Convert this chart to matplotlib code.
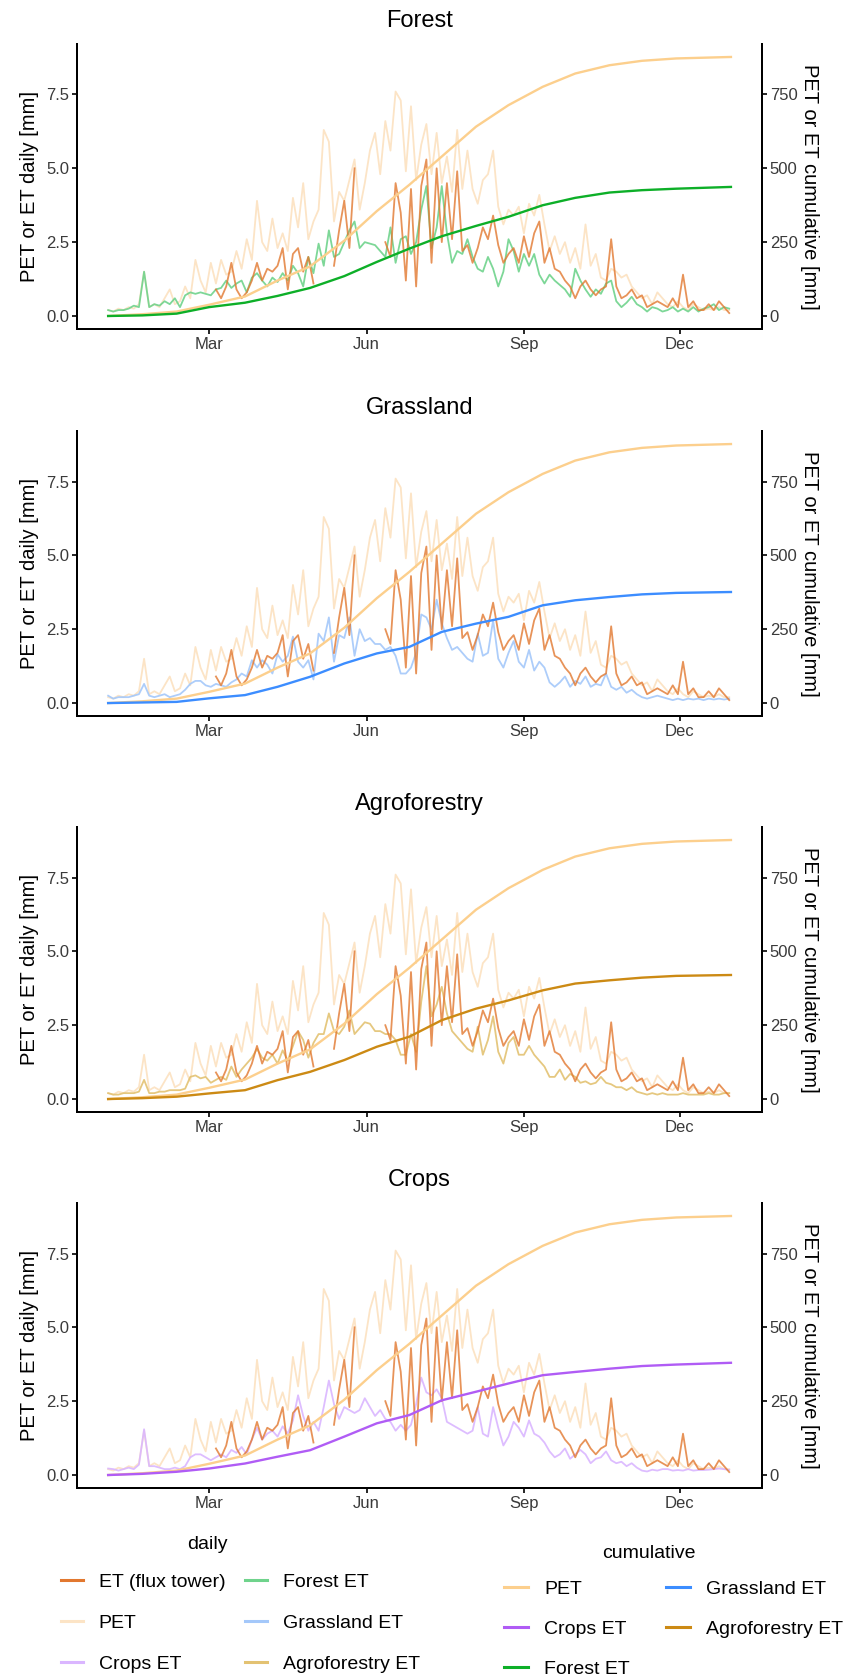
import numpy as np
import pandas as pd
import matplotlib
matplotlib.use("Agg")
import matplotlib.pyplot as plt
import matplotlib.dates as mdates
from matplotlib.lines import Line2D

nan = np.nan

# daily values, every 3rd day from 1 Jan (122 points)
pet_daily = [
    0.2, 0.15, 0.25, 0.2, 0.3, 0.25, 0.4, 1.5, 0.3, 0.4,
    0.3, 0.6, 0.9, 0.4, 0.5, 1.0, 0.6, 1.9, 1.2, 0.8,
    1.8, 1.1, 1.9, 1.4, 1.5, 2.2, 1.6, 2.6, 1.9, 3.9,
    2.5, 2.2, 3.3, 2.3, 2.8, 2.2, 4.0, 3.0, 4.5, 2.6,
    3.2, 3.6, 6.3, 5.9, 3.2, 4.2, 3.9, 4.6, 5.3, 3.6,
    4.5, 5.6, 6.2, 4.8, 6.6, 5.6, 7.6, 7.3, 4.9, 7.1,
    4.6, 5.8, 6.5, 4.8, 6.2, 4.5, 5.4, 4.2, 6.3, 4.3,
    5.6, 4.3, 3.8, 4.6, 4.8, 5.6, 3.7, 3.1, 3.6, 3.4,
    3.7, 2.8, 3.8, 3.4, 4.1, 3.1, 2.2, 2.7, 2.1, 2.5,
    1.8, 2.3, 1.6, 3.1, 1.7, 2.1, 1.3, 1.2, 1.6, 1.5,
    1.3, 1.4, 1.0, 0.8, 0.6, 0.7, 0.4, 0.8, 0.6, 0.4,
    0.3, 0.5, 0.3, 0.2, 0.4, 0.3, 0.2, 0.25, 0.2, 0.3,
    0.2, 0.2,
]

et_flux = [
    nan, nan, nan, nan, nan, nan, nan, nan, nan, nan,
    nan, nan, nan, nan, nan, nan, nan, nan, nan, nan,
    nan, 0.9, 0.6, 1.0, 1.8, 0.9, 0.6, 0.8, 1.2, 1.8,
    1.2, 1.6, 1.5, 1.7, 2.3, 0.9, 2.1, 2.3, 1.5, 2.0,
    1.1, nan, nan, nan, 1.7, 2.9, 3.9, 2.3, 5.0, nan,
    nan, nan, nan, nan, 2.5, 2.0, 4.5, 3.5, 1.2, 4.3,
    1.0, 4.4, 5.3, 1.8, 5.0, 2.5, 4.5, 2.6, 4.9, 2.2,
    2.4, 1.8, 2.3, 3.0, 2.6, 3.4, 2.4, 1.8, 2.1, 2.3,
    1.8, 2.7, 2.0, 2.8, 3.2, 1.8, 2.3, 1.6, 1.5, 1.2,
    1.0, 0.6, 1.0, 1.2, 0.9, 0.7, 0.9, 1.0, 2.6, 1.0,
    0.6, 0.7, 0.9, 0.6, 0.7, 0.3, 0.4, 0.5, 0.4, 0.3,
    0.6, 0.3, 1.4, 0.3, 0.5, 0.2, 0.2, 0.4, 0.2, 0.5,
    0.3, 0.1,
]

forest_daily = [
    0.2, 0.15, 0.2, 0.2, 0.25, 0.35, 0.3, 1.5, 0.3, 0.4,
    0.35, 0.5, 0.4, 0.6, 0.3, 0.7, 0.8, 0.75, 0.8, 0.75,
    0.7, 0.9, 0.95, 1.2, 0.95, 1.1, 1.2, 0.8, 1.3, 1.45,
    1.2, 1.0, 1.3, 1.15, 1.45, 1.2, 1.7, 1.45, 1.0, 2.0,
    1.45, 2.45, 1.7, 2.9, 2.0, 2.1, 2.5, 2.9, 3.2, 2.3,
    2.5, 2.45, 2.4, 2.2, 2.0, 3.0, 1.8, 2.6, 2.7, 2.1,
    2.5, 3.6, 4.4, 2.3, 3.0, 4.4, 2.8, 1.8, 2.2, 2.1,
    2.6, 2.0, 1.6, 1.5, 2.0, 1.6, 1.0, 1.5, 2.6, 2.2,
    1.5, 2.1, 1.7, 2.1, 1.4, 1.1, 1.4, 1.2, 1.05, 0.9,
    0.65, 1.6, 1.2, 0.9, 0.65, 0.9, 0.75, 1.1, 1.2, 0.5,
    0.3, 0.45, 0.65, 0.4, 0.3, 0.15, 0.3, 0.25, 0.15, 0.2,
    0.3, 0.15, 0.25, 0.15, 0.3, 0.15, 0.25, 0.3, 0.4, 0.2,
    0.3, 0.25,
]

grass_daily = [
    0.25, 0.15, 0.2, 0.2, 0.2, 0.25, 0.3, 0.65, 0.25, 0.2,
    0.25, 0.3, 0.2, 0.25, 0.3, 0.45, 0.65, 0.75, 0.75, 0.6,
    0.55, 0.65, 0.6, 0.55, 0.7, 0.8, 1.0, 0.9, 1.45, 1.2,
    1.45, 1.3, 1.0, 1.65, 1.4, 1.6, 2.25, 1.4, 1.2, 1.45,
    0.8, 2.35, 2.1, 2.9, 1.4, 2.3, 2.2, 2.9, 1.6, 2.5,
    2.1, 2.2, 2.0, 2.0, 1.8, 1.9, 1.6, 1.0, 1.0, 1.2,
    1.7, 3.0, 2.9, 2.5, 3.5, 2.7, 2.2, 1.8, 1.9, 1.7,
    1.5, 1.4, 2.35, 1.6, 1.7, 2.8, 1.5, 1.2, 1.7, 2.1,
    1.4, 1.2, 1.8, 1.1, 1.4, 1.2, 0.7, 0.55, 0.7, 0.9,
    0.55, 0.75, 0.65, 0.9, 0.55, 0.65, 0.6, 1.0, 0.55, 0.45,
    0.55, 0.35, 0.45, 0.3, 0.2, 0.15, 0.2, 0.25, 0.2, 0.15,
    0.1, 0.15, 0.1, 0.15, 0.12, 0.15, 0.1, 0.15, 0.12, 0.15,
    0.12, 0.15,
]

agro_daily = [
    0.2, 0.15, 0.15, 0.2, 0.2, 0.2, 0.25, 0.65, 0.2, 0.2,
    0.25, 0.25, 0.3, 0.3, 0.3, 0.35, 0.75, 0.8, 0.7, 0.75,
    0.55, 0.65, 0.75, 0.65, 1.1, 0.75, 1.0, 1.2, 1.4, 1.7,
    1.4, 1.3, 1.5, 1.2, 1.65, 1.3, 1.8, 2.3, 2.0, 1.4,
    1.9, 2.2, 2.2, 2.9, 2.3, 2.2, 2.45, 3.0, 2.2, 2.4,
    2.6, 2.55, 2.3, 2.3, 2.2, 2.2, 2.0, 1.5, 1.5, 2.2,
    1.6, 3.3, 4.5, 2.8, 3.2, 3.8, 2.9, 2.3, 2.1, 1.9,
    1.7, 1.6, 2.45, 1.5, 2.0, 2.8, 1.6, 1.2, 1.9, 2.1,
    1.5, 1.5, 1.8, 1.5, 1.3, 1.1, 0.75, 0.75, 1.0, 0.65,
    0.85, 0.75, 0.55, 0.6, 0.5, 0.55, 0.75, 0.55, 0.5, 0.4,
    0.4, 0.3, 0.4, 0.25, 0.2, 0.15, 0.2, 0.15, 0.2, 0.15,
    0.15, 0.15, 0.2, 0.15, 0.15, 0.15, 0.15, 0.2, 0.15, 0.15,
    0.2, 0.2,
]

crops_daily = [
    0.22, 0.2, 0.15, 0.2, 0.25, 0.2, 0.35, 1.55, 0.3, 0.3,
    0.25, 0.2, 0.2, 0.25, 0.2, 0.3, 0.6, 0.7, 0.7, 0.6,
    0.5, 0.6, 0.7, 0.6, 0.85, 0.75, 0.95, 0.7, 1.2, 1.6,
    1.2, 1.4, 1.5, 1.3, 1.65, 1.4, 1.85, 2.7, 2.0, 1.5,
    1.8, 1.5, 2.3, 3.2, 2.4, 1.9, 2.3, 2.2, 2.1, 2.2,
    2.6, 2.3, 2.0, 2.2, 1.9, 1.8, 1.5, 1.7, 1.5, 1.7,
    2.4, 3.3, 2.8, 2.7, 2.9, 2.6, 1.8, 1.7, 1.6, 1.5,
    1.4, 1.5, 2.3, 1.4, 1.3, 2.3, 1.6, 1.0, 1.3, 1.8,
    1.6, 1.3, 1.85, 1.4, 1.3, 1.1, 0.8, 0.6, 0.7, 0.9,
    0.55, 0.7, 0.85, 0.7, 0.4, 0.55, 0.6, 0.8, 0.5, 0.4,
    0.45, 0.3, 0.4, 0.25, 0.15, 0.12, 0.18, 0.15, 0.2, 0.2,
    0.15, 0.17, 0.15, 0.2, 0.15, 0.17, 0.17, 0.18, 0.2, 0.22,
    0.2, 0.17,
]

# cumulative values [mm]
cum_day = [0, 20, 40, 59, 80, 99, 118, 138, 157, 176, 195, 215, 234, 254, 273, 293, 312, 332, 364]
pet_cum = [0, 6, 15, 38, 66, 120, 168, 255, 355, 444, 540, 641, 714, 776, 821, 849, 864, 872, 877]
forest_cum = [0, 2, 8, 30, 45, 68, 95, 135, 183, 228, 270, 305, 336, 375, 400, 418, 426, 431, 437]
grass_cum = [0, 2, 4, 16, 27, 55, 89, 134, 168, 190, 241, 269, 292, 331, 348, 359, 368, 373, 376]
agro_cum = [0, 3, 8, 19, 30, 64, 92, 132, 177, 211, 267, 306, 334, 368, 391, 402, 411, 417, 420]
crops_cum = [0, 4, 11, 22, 39, 62, 84, 130, 175, 203, 253, 282, 310, 338, 349, 360, 369, 374, 380]

start = pd.Timestamp("2019-01-01")
daily_dates = pd.date_range(start, periods=len(pet_daily), freq="3D")
cum_dates = start + pd.to_timedelta(cum_day, unit="D")

c_flux = "#E2782F"
c_pet_d = "#FCE4C6"
c_pet_c = "#FCCF8D"

panels = [
    ("Forest", forest_daily, forest_cum, "#6FD38C", "#0DAF28", 0.8042),
    ("Grassland", grass_daily, grass_cum, "#A4C8FA", "#3C8DFF", 0.5738),
    ("Agroforestry", agro_daily, agro_cum, "#E3C272", "#CC8A14", 0.3381),
    ("Crops", crops_daily, crops_cum, "#DAB6FF", "#B05CF5", 0.1143),
]

plt.rcParams["font.family"] = ["Liberation Sans", "DejaVu Sans"]

fig = plt.figure(figsize=(8.51, 16.8), dpi=100)

top = max(pet_cum) / 100
ylo, yhi = -0.05 * top, 1.05 * top
pad_days = pd.Timedelta(days=0.05 * 364)

for name, dvals, cvals, dcol, ccol, bottom in panels:
    ax = fig.add_axes([0.0905, bottom, 0.805, 0.1696])
    ax.plot(daily_dates, pet_daily, color=c_pet_d, lw=1.3)
    ax.plot(daily_dates, dvals, color=dcol, lw=1.3, alpha=0.9)
    ax.plot(daily_dates, et_flux, color=c_flux, lw=1.3, alpha=0.8)
    ax.plot(cum_dates, np.array(pet_cum) / 100, color=c_pet_c, lw=1.7)
    ax.plot(cum_dates, np.array(cvals) / 100, color=ccol, lw=1.7)

    ax.set_ylim(ylo, yhi)
    ax.set_xlim(start - pad_days, daily_dates[-1] + pd.Timedelta(days=1) + pad_days)
    ax.set_yticks([0, 2.5, 5.0, 7.5])
    ax.set_yticklabels(["0.0", "2.5", "5.0", "7.5"])
    ax.xaxis.set_major_locator(mdates.MonthLocator(bymonth=[3, 6, 9, 12]))
    ax.xaxis.set_major_formatter(mdates.DateFormatter("%b"))
    ax.set_title(name, fontsize=17, pad=12)
    ax.set_ylabel("PET or ET daily [mm]", fontsize=14.5, labelpad=5)

    ax2 = ax.twinx()
    ax2.set_ylim(ylo * 100, yhi * 100)
    ax2.set_yticks([0, 250, 500, 750])
    ax2.set_ylabel("PET or ET cumulative [mm]", fontsize=14.5, rotation=270,
                   va="bottom", labelpad=2)

    for a in (ax, ax2):
        a.spines["top"].set_visible(False)
        for s in a.spines.values():
            s.set_linewidth(1.4)
        a.tick_params(width=1.2, length=3.5, pad=2, labelsize=12,
                      labelcolor="#3a3a3a")

# legends
daily_handles = [
    Line2D([], [], color=c_flux, lw=2.2),
    Line2D([], [], color=c_pet_d, lw=2.2),
    Line2D([], [], color="#DAB6FF", lw=2.2),
    Line2D([], [], color="#6FD38C", lw=2.2),
    Line2D([], [], color="#A4C8FA", lw=2.2),
    Line2D([], [], color="#E3C272", lw=2.2),
]
daily_labels = ["ET (flux tower)", "PET", "Crops ET", "Forest ET", "Grassland ET", "Agroforestry ET"]

cum_handles = [
    Line2D([], [], color=c_pet_c, lw=2.2),
    Line2D([], [], color="#B05CF5", lw=2.2),
    Line2D([], [], color="#0DAF28", lw=2.2),
    Line2D([], [], color="#3C8DFF", lw=2.2),
    Line2D([], [], color="#CC8A14", lw=2.2),
]
cum_labels = ["PET", "Crops ET", "Forest ET", "Grassland ET", "Agroforestry ET"]

fig.legend(daily_handles, daily_labels, ncol=2, loc="upper left",
           bbox_to_anchor=(0.0715, 0.0635), frameon=False, fontsize=14,
           handlelength=1.13, handletextpad=0.82, columnspacing=1.0,
           labelspacing=1.2, borderpad=0, borderaxespad=0)
fig.legend(cum_handles, cum_labels, ncol=2, loc="upper left",
           bbox_to_anchor=(0.592, 0.0595), frameon=False, fontsize=14,
           handlelength=1.25, handletextpad=0.82, columnspacing=1.85,
           labelspacing=1.15, borderpad=0, borderaxespad=0)
fig.text(0.244, 0.0804, "daily", fontsize=14, ha="center", va="center")
fig.text(0.762, 0.075, "cumulative", fontsize=14, ha="center", va="center")

fig.savefig("out.png", dpi=100)
